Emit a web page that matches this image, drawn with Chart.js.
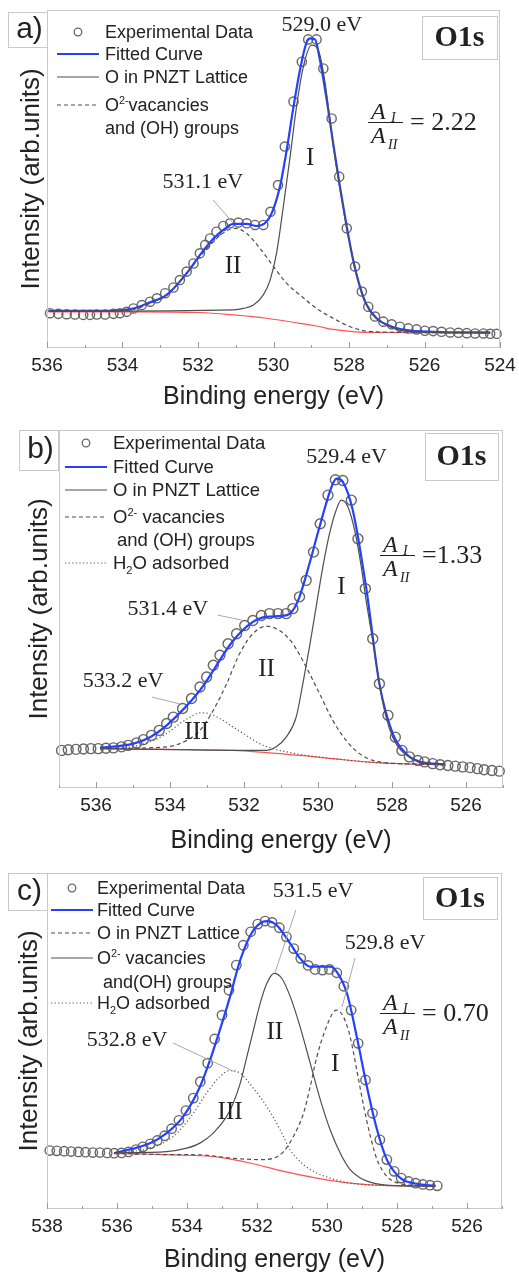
<!DOCTYPE html>
<html>
<head>
<meta charset="utf-8">
<script src="https://cdn.jsdelivr.net/npm/chart.js@4.4.1/dist/chart.umd.min.js"></script>
<style>
  body { margin: 0; background: #fff; width: 519px; height: 1275px; overflow: hidden; }
  .panel { position: absolute; left: 0; width: 519px; }
</style>
</head>
<body>
<div class="panel" style="top:0;height:415px"><canvas id="chartA"></canvas></div>
<div class="panel" style="top:415px;height:445px"><canvas id="chartB"></canvas></div>
<div class="panel" style="top:860px;height:415px"><canvas id="chartC"></canvas></div>
<script>
const SANS = '"Liberation Sans", Arial, sans-serif';
const SERIF = '"Liberation Serif", "Times New Roman", serif';
const TEXT = '#222';
const FRAME = '#c9c9c9';

// ---------- panel a) ----------
const energyA = [535.92,535.70,535.48,535.26,535.04,534.86,534.68,534.46,534.24,534.07,533.89,533.71,533.49,533.27,533.09,532.87,532.65,532.48,532.30,532.12,531.95,531.81,531.68,531.51,531.33,531.15,530.93,530.71,530.49,530.27,530.08,529.88,529.70,529.47,529.25,529.08,528.86,528.68,528.46,528.26,528.06,527.84,527.66,527.49,527.31,527.09,526.87,526.65,526.43,526.21,525.99,525.77,525.55,525.32,525.10,524.88,524.66,524.44,524.26,524.09];
const countsA = [10.3,10.1,10.0,9.9,9.8,9.8,9.9,9.9,10.1,10.3,10.7,11.7,12.7,13.7,14.7,16.2,17.9,20.1,22.6,25.0,28.0,30.5,32.4,34.4,36.1,36.9,37.1,36.9,36.4,36.4,40.3,48.2,59.6,72.9,84.7,91.3,91.3,82.7,67.9,50.7,35.4,24.1,16.7,12.2,9.3,7.8,7.0,6.3,5.8,5.5,5.1,5.0,4.8,4.6,4.5,4.4,4.3,4.3,4.2,4.2];
const fitA = [[535.96,11.0],[534.60,11.0],[533.71,11.7],[533.27,13.5],[532.83,15.7],[532.30,22.1],[531.95,27.5],[531.59,32.4],[531.24,35.7],[531.06,36.7],[530.71,36.7],[530.45,36.1],[530.23,36.9],[530.05,39.8],[529.83,47.7],[529.65,58.6],[529.47,71.4],[529.30,82.2],[529.12,90.6],[529.03,91.6],[528.90,91.3],[528.77,85.2],[528.59,73.4],[528.42,60.6],[528.24,47.7],[528.06,35.9],[527.89,26.0],[527.71,18.1],[527.53,12.7],[527.27,8.8],[526.91,6.5],[526.47,5.3],[525.77,4.8],[524.88,4.6],[524.26,4.6]];
const latticeA = [[535.96,10.9],[531.06,11.3],[530.80,11.7],[530.53,12.7],[530.27,15.7],[530.09,20.1],[529.92,28.0],[529.74,41.8],[529.56,56.6],[529.39,71.4],[529.21,83.2],[528.99,89.6],[528.81,88.0],[528.64,79.0],[528.42,60.0],[528.24,47.2],[528.02,33.0],[527.80,22.0],[527.62,15.2],[527.44,10.8],[527.09,7.3],[526.65,5.3],[525.77,4.6],[524.26,4.5]];
const vacancyA = [[535.96,10.9],[534.15,11.0],[533.71,11.4],[533.27,13.2],[532.83,15.7],[532.30,22.1],[531.95,27.0],[531.59,31.5],[531.24,34.7],[531.02,35.4],[530.71,33.9],[530.36,29.5],[530.00,24.1],[529.65,19.1],[529.30,15.7],[528.86,11.7],[528.42,8.8],[527.97,6.3],[527.53,5.0],[526.65,4.6],[524.26,4.5]];
const backgroundA = [[535.96,10.7],[533.71,10.7],[531.95,10.5],[531.06,9.8],[530.18,8.8],[529.30,7.3],[528.86,6.5],[528.42,5.5],[527.97,4.9],[527.53,4.6],[524.26,4.5]];
const ticksA = [536,534,532,530,528,526,524];
const peaksA = [
  {text:'529.0 eV', x:528.72, y:95.6, size:22},
  {text:'531.1 eV', x:531.87, y:49.1, size:22, lead:[531.60,43.8,531.07,37.0]},
  {text:'I', x:529.03, y:56.2, size:25},
  {text:'II', x:531.07, y:24.0, size:25}
];

// ---------- panel b) ----------
const energyB = [536.93,536.75,536.54,536.34,536.14,535.94,535.73,535.53,535.31,535.13,534.90,534.72,534.50,534.29,534.09,533.91,533.66,533.42,533.19,533.01,532.83,532.65,532.43,532.20,531.98,531.76,531.53,531.31,531.08,530.86,530.68,530.50,530.32,530.12,529.94,529.73,529.53,529.33,529.10,528.92,528.72,528.52,528.34,528.11,527.91,527.73,527.53,527.30,527.12,526.90,526.70,526.49,526.29,526.09,525.89,525.69,525.51,525.30,525.10];
const countsB = [10.5,10.7,10.8,10.9,11.0,11.0,11.1,11.2,11.5,11.9,12.6,13.5,14.7,16.1,18.0,19.8,22.2,25.0,28.2,31.0,34.3,37.1,40.3,43.1,45.4,46.8,48.2,48.7,48.7,48.7,50.1,53.4,58.0,65.9,73.8,81.8,86.1,85.9,80.4,69.6,55.7,41.7,29.1,20.3,14.2,10.5,8.7,7.7,7.3,6.8,6.5,6.3,6.1,5.9,5.7,5.4,5.1,4.9,4.7];
const fitB = [[535.89,11.2],[534.99,12.4],[534.54,14.2],[534.09,17.5],[533.19,27.3],[532.29,41.2],[531.76,46.4],[531.40,47.8],[530.86,48.2],[530.68,49.6],[530.50,53.4],[530.23,62.7],[529.96,72.9],[529.60,85.0],[529.49,86.4],[529.33,85.5],[529.06,77.6],[528.70,56.1],[528.34,29.1],[527.98,15.2],[527.62,9.6],[527.26,7.3],[526.90,6.8],[526.58,6.6]];
const latticeB = [[535.89,11.0],[531.40,10.5],[531.13,11.5],[530.86,14.2],[530.59,19.8],[530.41,29.1],[530.23,39.4],[530.05,50.6],[529.87,61.7],[529.69,71.0],[529.51,77.6],[529.37,80.4],[529.19,78.5],[529.01,72.0],[528.83,61.7],[528.70,52.4],[528.52,41.2],[528.34,29.1],[528.16,19.8],[527.98,14.2],[527.80,11.0],[527.53,8.7],[527.26,7.5],[526.90,6.8],[526.58,6.6]];
const vacancyB = [[535.89,11.0],[534.09,11.5],[533.55,13.3],[533.19,16.1],[532.83,21.7],[532.47,29.1],[532.12,37.5],[531.76,43.1],[531.40,45.2],[531.04,44.0],[530.68,40.3],[530.32,33.8],[529.96,26.4],[529.60,18.9],[529.24,13.3],[528.88,9.6],[528.52,7.7],[528.16,7.0],[527.80,6.8],[526.58,6.5]];
const waterB = [[535.89,11.0],[534.99,11.6],[534.45,13.3],[534.09,15.2],[533.73,18.0],[533.37,20.3],[533.19,21.0],[533.01,20.9],[532.65,19.4],[532.29,17.0],[531.94,14.7],[531.58,12.4],[531.22,11.0],[530.86,10.1],[530.50,9.4],[529.60,8.2],[528.70,7.3],[527.80,6.8],[526.58,6.5]];
const backgroundB = [[535.89,11.0],[534.09,10.8],[532.29,10.5],[530.50,9.1],[529.60,8.2],[528.70,7.3],[527.80,6.8],[526.58,6.5]];
const ticksB = [536,534,532,530,528,526];
const peaksB = [
  {text:'529.4 eV', x:529.23, y:92.5, size:22},
  {text:'531.4 eV', x:534.06, y:50.0, size:22, lead:[532.71,48.3,532.06,46.9]},
  {text:'533.2 eV', x:535.27, y:29.9, size:22, lead:[534.49,25.4,533.74,23.5]},
  {text:'I', x:529.37, y:55.9, size:25},
  {text:'II', x:531.39, y:33.0, size:25},
  {text:'III', x:533.28, y:15.4, size:25}
];

// ---------- panel c) ----------
const energyC = [537.92,537.72,537.51,537.31,537.10,536.90,536.69,536.49,536.28,536.08,535.87,535.67,535.46,535.26,535.05,534.85,534.64,534.44,534.23,534.03,533.82,533.62,533.41,533.21,533.00,532.80,532.59,532.39,532.18,531.98,531.77,531.57,531.36,531.16,530.95,530.75,530.54,530.34,530.13,529.93,529.72,529.52,529.31,529.11,528.90,528.70,528.49,528.29,528.08,527.88,527.67,527.47,527.26,527.06,526.85];
const countsC = [17.4,17.3,17.2,17.1,17.0,16.9,16.8,16.8,16.7,16.6,16.7,17.0,17.7,18.5,19.4,20.4,21.8,23.9,26.4,29.3,33.0,37.9,43.4,50.6,57.7,65.1,72.6,78.5,82.5,84.8,85.7,85.3,83.7,81.0,77.5,74.6,72.5,71.3,71.1,71.3,70.3,66.3,59.2,49.3,38.4,28.5,20.6,14.7,11.2,9.2,8.2,7.7,7.3,7.1,6.9];
const fitC = [[536.08,16.6],[535.06,19.6],[534.58,22.6],[534.11,27.5],[533.63,36.4],[533.34,44.4],[533.06,53.3],[532.77,63.2],[532.48,74.1],[532.10,83.0],[531.72,85.7],[531.44,84.5],[531.05,79.0],[530.77,74.6],[530.48,72.1],[530.19,72.1],[529.91,72.1],[529.72,70.6],[529.43,64.2],[529.15,51.3],[528.86,36.4],[528.57,23.6],[528.29,14.7],[527.90,9.2],[527.43,7.5],[526.90,6.9]];
const latticeC = [[536.08,16.6],[534.58,16.2],[533.63,16.1],[532.68,15.1],[531.91,14.7],[531.53,15.1],[531.24,17.1],[530.96,21.6],[530.67,28.5],[530.48,36.4],[530.29,45.3],[530.05,53.3],[529.81,58.7],[529.72,59.2],[529.53,57.2],[529.34,51.3],[529.15,41.4],[528.95,30.5],[528.76,21.6],[528.57,14.7],[528.29,9.7],[527.90,7.5],[527.43,7.0],[526.90,6.9]];
const vacancyC = [[536.08,16.7],[534.58,17.1],[534.01,18.1],[533.63,19.6],[533.25,22.6],[532.87,27.5],[532.68,31.5],[532.48,37.4],[532.29,45.3],[532.10,53.3],[531.91,61.2],[531.72,67.1],[531.51,70.1],[531.29,68.6],[531.05,63.2],[530.77,54.3],[530.48,43.4],[530.19,32.5],[529.91,23.6],[529.62,16.6],[529.34,11.7],[529.05,9.2],[528.67,7.7],[528.29,7.1],[527.90,6.9],[526.90,6.8]];
const waterC = [[536.08,16.7],[535.06,18.1],[534.39,21.6],[533.82,28.5],[533.44,34.5],[533.06,39.4],[532.77,41.2],[532.48,40.4],[532.10,35.9],[531.72,30.5],[531.34,23.6],[531.05,17.6],[530.67,13.2],[530.29,10.7],[529.81,8.9],[529.34,7.7],[528.38,7.0],[526.90,6.9]];
const backgroundC = [[536.08,16.5],[535.00,16.3],[534.00,16.0],[533.15,15.5],[532.20,13.7],[531.24,11.2],[530.29,9.2],[529.34,7.7],[528.38,7.0],[527.40,6.9],[526.90,6.9]];
const ticksC = [538,536,534,532,530,528,526];
const peaksC = [
  {text:'531.5 eV', x:530.40, y:94.6, size:22, lead:[530.89,89.0,531.49,70.2]},
  {text:'529.8 eV', x:528.34, y:79.2, size:22, lead:[529.20,74.7,529.57,60.1]},
  {text:'532.8 eV', x:535.71, y:50.3, size:22, lead:[534.40,49.4,532.63,40.8]},
  {text:'I', x:529.77, y:42.9, size:25},
  {text:'II', x:531.49, y:52.4, size:25},
  {text:'III', x:532.77, y:28.6, size:25}
];

const STYLES = {
  fit:    {color:'#2341ff', width:2.2, dash:[]},
  solid:  {color:'#4f4f4f', width:1.2, dash:[]},
  dashed: {color:'#4f4f4f', width:1.2, dash:[4,3]},
  dotted: {color:'#555',    width:1.2, dash:[1.2,2.4]},
  bg:     {color:'#ff5252', width:1.2, dash:[]}
};
const CIRCLE = '#666';

function toXY(pairs) {
  return pairs.map(p => ({x: p[0], y: p[1]}));
}

function richText(ctx, x, y, parts, size) {
  let cx = x;
  parts.forEach(([t, mode]) => {
    const s = mode ? size * 0.6 : size;
    const dy = mode === 'sup' ? -size * 0.4 : mode === 'sub' ? size * 0.25 : 0;
    ctx.font = `${s}px ${SANS}`;
    ctx.fillText(t, cx, y + dy);
    cx += ctx.measureText(t).width;
  });
}

function drawRatio(ctx, cx, cy, value) {
  ctx.fillStyle = TEXT;
  ctx.textAlign = 'left';
  ctx.textBaseline = 'alphabetic';
  ctx.font = `italic 24px ${SERIF}`;
  ctx.fillText('A', cx - 14, cy - 3);
  ctx.fillText('A', cx - 14, cy + 21);
  ctx.font = `italic 14px ${SERIF}`;
  ctx.fillText('I', cx + 6, cy);
  ctx.fillText('II', cx + 3, cy + 27);
  ctx.strokeStyle = TEXT;
  ctx.lineWidth = 1;
  ctx.beginPath();
  ctx.moveTo(cx - 17, cy + 0.5);
  ctx.lineTo(cx + 18, cy + 0.5);
  ctx.stroke();
  ctx.font = `26px ${SERIF}`;
  ctx.fillText(value, cx + 25, cy + 8);
}

const decor = {
  id: 'decor',
  afterDraw(chart, args, o) {
    const {ctx, chartArea: a} = chart;
    const xs = chart.scales.x, ys = chart.scales.y;
    ctx.save();
    // frame
    ctx.strokeStyle = FRAME;
    ctx.lineWidth = 1;
    ctx.setLineDash([]);
    ctx.strokeRect(a.left + 0.5, a.top + 0.5, a.right - a.left - 1, a.bottom - a.top - 1);
    // inward ticks
    ctx.strokeStyle = '#9a9a9a';
    xs.ticks.forEach(t => {
      const x = Math.round(xs.getPixelForValue(t.value)) + 0.5;
      const len = o.tickLabels.includes(t.value) ? 6 : 3;
      ctx.beginPath();
      ctx.moveTo(x, a.bottom);
      ctx.lineTo(x, a.bottom - len);
      ctx.stroke();
    });
    // panel letter box and O1s box
    const lb = o.letter, ob = o.o1s;
    ctx.strokeStyle = FRAME;
    ctx.fillStyle = '#fff';
    ctx.fillRect(a.left + lb.x, a.top + lb.y, lb.w, lb.h);
    ctx.strokeRect(a.left + lb.x + 0.5, a.top + lb.y + 0.5, lb.w, lb.h);
    ctx.strokeRect(a.left + ob.x + 0.5, a.top + ob.y + 0.5, ob.w, ob.h);
    ctx.fillStyle = TEXT;
    ctx.textAlign = 'center';
    ctx.textBaseline = 'middle';
    ctx.font = `30px ${SANS}`;
    ctx.fillText(lb.text, a.left + lb.x + lb.w / 2 + 2, a.top + lb.y + lb.h / 2);
    ctx.font = `bold 30px ${SERIF}`;
    ctx.fillText('O1s', a.left + ob.x + ob.w / 2, a.top + ob.y + ob.h / 2 + 1);
    // legend
    const L = o.legend;
    L.rows.forEach((row, i) => {
      const y = a.top + L.y[i];
      const st = STYLES[row.style];
      if (row.style === 'circle') {
        ctx.strokeStyle = CIRCLE;
        ctx.lineWidth = 1.3;
        ctx.beginPath();
        ctx.arc(a.left + L.cx, y, 3.8, 0, Math.PI * 2);
        ctx.stroke();
      } else if (st) {
        ctx.strokeStyle = st.color;
        ctx.lineWidth = st.width;
        ctx.setLineDash(st.dash);
        ctx.beginPath();
        ctx.moveTo(a.left + L.x0, y);
        ctx.lineTo(a.left + L.x1, y);
        ctx.stroke();
        ctx.setLineDash([]);
      }
      ctx.fillStyle = TEXT;
      ctx.textAlign = 'left';
      ctx.textBaseline = 'alphabetic';
      richText(ctx, a.left + L.tx + (row.indent || 0), y + 0.35 * L.size, row.parts, L.size);
    });
    // peak labels and leader lines
    o.peaks.forEach(p => {
      if (p.lead) {
        ctx.strokeStyle = '#a8a8a8';
        ctx.lineWidth = 1;
        ctx.beginPath();
        ctx.moveTo(xs.getPixelForValue(p.lead[0]), ys.getPixelForValue(p.lead[1]));
        ctx.lineTo(xs.getPixelForValue(p.lead[2]), ys.getPixelForValue(p.lead[3]));
        ctx.stroke();
      }
      ctx.fillStyle = TEXT;
      ctx.textAlign = 'center';
      ctx.textBaseline = 'middle';
      ctx.font = `${p.size}px ${SERIF}`;
      ctx.fillText(p.text, xs.getPixelForValue(p.x), ys.getPixelForValue(p.y));
    });
    drawRatio(ctx, a.left + o.ratio.cx, a.top + o.ratio.cy, o.ratio.value);
    ctx.restore();
  }
};

function curve(pairs, styleName, order) {
  const st = STYLES[styleName];
  return {
    data: toXY(pairs),
    showLine: true,
    borderColor: st.color,
    borderWidth: st.width,
    borderDash: st.dash,
    pointRadius: 0,
    fill: false,
    cubicInterpolationMode: 'monotone',
    order: order
  };
}

function makeChart(id, p) {
  const datasets = [
    {
      data: p.energy.map((e, i) => ({x: e, y: p.counts[i]})),
      showLine: false,
      pointRadius: p.radius,
      pointBorderColor: CIRCLE,
      pointBackgroundColor: 'rgba(255,255,255,0)',
      pointBorderWidth: 1.4,
      clip: false,
      order: 10
    },
    curve(p.fit, 'fit', 5)
  ];
  p.components.forEach(c => datasets.push(curve(c.data, c.style, c.style === 'bg' ? 6 : 1)));

  return new Chart(document.getElementById(id), {
    type: 'scatter',
    data: {datasets},
    options: {
      animation: false,
      responsive: true,
      maintainAspectRatio: false,
      layout: {padding: p.padding},
      plugins: {
        legend: {display: false},
        tooltip: {enabled: false},
        decor: {
          tickLabels: p.tickLabels, letter: p.letter, o1s: p.o1s,
          legend: p.legend, peaks: p.peaks, ratio: p.ratio
        }
      },
      scales: {
        x: {
          type: 'linear',
          reverse: true,
          min: p.xMin,
          max: p.xMax,
          afterBuildTicks: s => {
            const t = [];
            for (let v = p.xMin; v <= p.xMax; v++) t.push({value: v});
            s.ticks = t;
          },
          grid: {display: false, drawTicks: false},
          border: {display: false},
          ticks: {
            autoSkip: false,
            maxRotation: 0,
            padding: 6,
            color: TEXT,
            font: {size: 19, family: SANS},
            callback: v => p.tickLabels.includes(v) ? String(v) : ''
          },
          title: {
            display: true,
            text: 'Binding energy (eV)',
            color: TEXT,
            font: {size: 25, family: SANS},
            padding: {top: 0, bottom: 0}
          },
          afterFit: s => { s.height = p.xHeight; }
        },
        y: {
          min: 0,
          max: 100,
          grid: {display: false, drawTicks: false},
          border: {display: false},
          ticks: {display: false},
          title: {
            display: true,
            text: 'Intensity (arb.units)',
            color: TEXT,
            font: {size: 26, family: SANS},
            padding: {top: p.yTitlePad, bottom: 0}
          },
          afterFit: s => { s.width = p.yWidth; }
        }
      }
    },
    plugins: [decor]
  });
}

makeChart('chartA', {
  energy: energyA, counts: countsA, fit: fitA, radius: 4.6,
  components: [{data: latticeA, style: 'solid'}, {data: vacancyA, style: 'dashed'}, {data: backgroundA, style: 'bg'}],
  xMin: 524, xMax: 536, tickLabels: ticksA, peaks: peaksA,
  padding: {left: 0, top: 10, right: 19, bottom: 3}, yWidth: 47, xHeight: 64, yTitlePad: 16,
  letter: {x: -39, y: 2, w: 39, h: 35, text: 'a)'},
  o1s: {x: 375, y: 6, w: 75, h: 43},
  legend: {
    y: [22, 44, 67, 95, 118], x0: 10, x1: 52, cx: 31, tx: 58, size: 18,
    rows: [
      {style: 'circle', parts: [['Experimental Data']]},
      {style: 'fit', parts: [['Fitted Curve']]},
      {style: 'solid', parts: [['O in PNZT Lattice']]},
      {style: 'dashed', parts: [['O'], ['2-', 'sup'], ['vacancies']]},
      {style: null, parts: [['and (OH) groups']]}
    ]
  },
  ratio: {cx: 338, cy: 112, value: '= 2.22'}
});

makeChart('chartB', {
  energy: energyB, counts: countsB, fit: fitB, radius: 5,
  components: [{data: latticeB, style: 'solid'}, {data: vacancyB, style: 'dashed'}, {data: waterB, style: 'dotted'}, {data: backgroundB, style: 'bg'}],
  xMin: 525, xMax: 537, tickLabels: ticksB, peaks: peaksB,
  padding: {left: 0, top: 15, right: 16, bottom: 4}, yWidth: 59, xHeight: 68, yTitlePad: 24,
  letter: {x: -40, y: 0, w: 39, h: 40, text: 'b)'},
  o1s: {x: 366, y: 3, w: 73, h: 47},
  legend: {
    y: [13, 37, 60, 87, 110, 133], x0: 6, x1: 48, cx: 27, tx: 54, size: 18.5,
    rows: [
      {style: 'circle', parts: [['Experimental Data']]},
      {style: 'fit', parts: [['Fitted Curve']]},
      {style: 'solid', parts: [['O in PNZT Lattice']]},
      {style: 'dashed', parts: [['O'], ['2-', 'sup'], [' vacancies']]},
      {style: null, parts: [['and (OH) groups']], indent: 4},
      {style: 'dotted', parts: [['H'], ['2', 'sub'], ['O adsorbed']]}
    ]
  },
  ratio: {cx: 338, cy: 125, value: '=1.33'}
});

makeChart('chartC', {
  energy: energyC, counts: countsC, fit: fitC, radius: 4.7,
  components: [{data: latticeC, style: 'dashed'}, {data: vacancyC, style: 'solid'}, {data: waterC, style: 'dotted'}, {data: backgroundC, style: 'bg'}],
  xMin: 525, xMax: 538, tickLabels: ticksC, peaks: peaksC,
  padding: {left: 0, top: 13, right: 17, bottom: 0}, yWidth: 47, xHeight: 66, yTitlePad: 14,
  letter: {x: -39, y: 0, w: 39, h: 37, text: 'c)'},
  o1s: {x: 376, y: 4, w: 74, h: 42},
  legend: {
    y: [15, 37, 60, 85, 109, 130], x0: 4, x1: 46, cx: 25, tx: 50, size: 18,
    rows: [
      {style: 'circle', parts: [['Experimental Data']]},
      {style: 'fit', parts: [['Fitted Curve']]},
      {style: 'dashed', parts: [['O in PNZT Lattice']]},
      {style: 'solid', parts: [['O'], ['2-', 'sup'], [' vacancies']]},
      {style: null, parts: [['and(OH) groups']], indent: 6},
      {style: 'dotted', parts: [['H'], ['2', 'sub'], ['O adsorbed']]}
    ]
  },
  ratio: {cx: 350, cy: 140, value: '= 0.70'}
});
</script>
</body>
</html>
